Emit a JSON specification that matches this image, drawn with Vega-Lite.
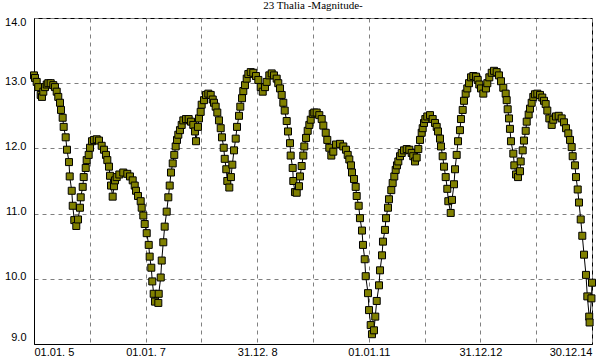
{
  "$schema": "https://vega.github.io/schema/vega-lite/v6.json",
  "width": 558,
  "height": 326,
  "autosize": "none",
  "padding": {"left": 34, "top": 18, "right": 8, "bottom": 16},
  "background": "white",
  "title": {"text": "23 Thalia -Magnitude-", "font": "Liberation Serif", "fontSize": 11, "fontWeight": "normal", "color": "black", "offset": 5, "anchor": "middle"},
  "config": {
    "view": {"stroke": "black", "strokeWidth": 1},
    "axis": {"domainColor": "black", "domainWidth": 1, "gridColor": "#808080", "gridDash": [4, 4], "gridWidth": 1, "gridOpacity": 1, "labelFont": "Liberation Sans", "labelFontSize": 11, "labelColor": "black", "ticks": false, "tickSize": 0, "labelOverlap": false, "title": null}
  },
  "data": {"values": [
    {"year":2005.000,"mag":13.12},{"year":2005.018,"mag":13.08},{"year":2005.048,"mag":13.02},{"year":2005.077,"mag":12.94},{"year":2005.120,"mag":12.82},{"year":2005.143,"mag":12.79},{"year":2005.167,"mag":12.87},{"year":2005.197,"mag":12.94},{"year":2005.228,"mag":12.98},{"year":2005.256,"mag":13.00},{"year":2005.299,"mag":13.00},{"year":2005.346,"mag":12.97},{"year":2005.376,"mag":12.94},{"year":2005.407,"mag":12.87},{"year":2005.435,"mag":12.79},{"year":2005.466,"mag":12.70},{"year":2005.484,"mag":12.59},{"year":2005.514,"mag":12.47},{"year":2005.532,"mag":12.33},{"year":2005.568,"mag":12.17},{"year":2005.591,"mag":11.98},{"year":2005.627,"mag":11.79},{"year":2005.640,"mag":11.57},{"year":2005.676,"mag":11.35},{"year":2005.694,"mag":11.12},{"year":2005.722,"mag":10.90},{"year":2005.758,"mag":10.81},{"year":2005.789,"mag":10.91},{"year":2005.824,"mag":11.09},{"year":2005.837,"mag":11.25},{"year":2005.873,"mag":11.41},{"year":2005.891,"mag":11.56},{"year":2005.927,"mag":11.70},{"year":2005.944,"mag":11.82},{"year":2005.980,"mag":11.90},
    {"year":2006.004,"mag":12.01},{"year":2006.039,"mag":12.11},{"year":2006.075,"mag":12.13},{"year":2006.124,"mag":12.14},{"year":2006.165,"mag":12.12},{"year":2006.213,"mag":12.04},{"year":2006.254,"mag":11.98},{"year":2006.290,"mag":11.90},{"year":2006.314,"mag":11.82},{"year":2006.344,"mag":11.72},{"year":2006.362,"mag":11.58},{"year":2006.380,"mag":11.43},{"year":2006.410,"mag":11.26},{"year":2006.434,"mag":11.42},{"year":2006.452,"mag":11.51},{"year":2006.482,"mag":11.56},{"year":2006.529,"mag":11.60},{"year":2006.600,"mag":11.63},{"year":2006.672,"mag":11.61},{"year":2006.720,"mag":11.57},{"year":2006.769,"mag":11.51},{"year":2006.805,"mag":11.43},{"year":2006.828,"mag":11.35},{"year":2006.864,"mag":11.27},{"year":2006.912,"mag":11.19},{"year":2006.930,"mag":11.09},{"year":2006.959,"mag":10.97},{"year":2006.984,"mag":10.84},
    {"year":2007.020,"mag":10.70},{"year":2007.056,"mag":10.52},{"year":2007.073,"mag":10.34},{"year":2007.102,"mag":10.17},{"year":2007.120,"mag":9.96},{"year":2007.145,"mag":9.77},{"year":2007.168,"mag":9.65},{"year":2007.228,"mag":9.63},{"year":2007.235,"mag":9.77},{"year":2007.271,"mag":10.02},{"year":2007.289,"mag":10.28},{"year":2007.317,"mag":10.56},{"year":2007.342,"mag":10.80},{"year":2007.378,"mag":11.03},{"year":2007.407,"mag":11.25},{"year":2007.432,"mag":11.43},{"year":2007.455,"mag":11.63},{"year":2007.486,"mag":11.77},{"year":2007.514,"mag":11.90},{"year":2007.539,"mag":12.03},{"year":2007.563,"mag":12.13},{"year":2007.586,"mag":12.21},{"year":2007.616,"mag":12.28},{"year":2007.647,"mag":12.36},{"year":2007.676,"mag":12.43},{"year":2007.724,"mag":12.45},{"year":2007.772,"mag":12.45},{"year":2007.814,"mag":12.41},{"year":2007.855,"mag":12.36},{"year":2007.885,"mag":12.26},{"year":2007.903,"mag":12.11},{"year":2007.939,"mag":12.33},{"year":2007.957,"mag":12.46},{"year":2007.987,"mag":12.56},
    {"year":2008.005,"mag":12.67},{"year":2008.047,"mag":12.74},{"year":2008.082,"mag":12.82},{"year":2008.124,"mag":12.84},{"year":2008.167,"mag":12.82},{"year":2008.203,"mag":12.75},{"year":2008.226,"mag":12.70},{"year":2008.256,"mag":12.64},{"year":2008.285,"mag":12.55},{"year":2008.315,"mag":12.43},{"year":2008.346,"mag":12.31},{"year":2008.369,"mag":12.17},{"year":2008.400,"mag":12.01},{"year":2008.418,"mag":11.84},{"year":2008.446,"mag":11.68},{"year":2008.464,"mag":11.50},{"year":2008.500,"mag":11.40},{"year":2008.530,"mag":11.56},{"year":2008.554,"mag":11.75},{"year":2008.584,"mag":11.97},{"year":2008.615,"mag":12.15},{"year":2008.638,"mag":12.33},{"year":2008.674,"mag":12.50},{"year":2008.697,"mag":12.64},{"year":2008.728,"mag":12.77},{"year":2008.751,"mag":12.88},{"year":2008.781,"mag":12.97},{"year":2008.812,"mag":13.07},{"year":2008.841,"mag":13.14},{"year":2008.884,"mag":13.17},{"year":2008.930,"mag":13.16},{"year":2008.978,"mag":13.11},
    {"year":2009.020,"mag":13.05},{"year":2009.063,"mag":12.94},{"year":2009.099,"mag":12.87},{"year":2009.140,"mag":12.94},{"year":2009.170,"mag":13.02},{"year":2009.217,"mag":13.12},{"year":2009.260,"mag":13.15},{"year":2009.301,"mag":13.12},{"year":2009.349,"mag":13.07},{"year":2009.378,"mag":13.00},{"year":2009.409,"mag":12.92},{"year":2009.439,"mag":12.82},{"year":2009.468,"mag":12.70},{"year":2009.493,"mag":12.58},{"year":2009.529,"mag":12.42},{"year":2009.552,"mag":12.26},{"year":2009.588,"mag":12.08},{"year":2009.600,"mag":11.89},{"year":2009.636,"mag":11.70},{"year":2009.647,"mag":11.50},{"year":2009.677,"mag":11.33},{"year":2009.708,"mag":11.32},{"year":2009.749,"mag":11.42},{"year":2009.767,"mag":11.57},{"year":2009.797,"mag":11.73},{"year":2009.826,"mag":11.89},{"year":2009.844,"mag":12.03},{"year":2009.875,"mag":12.16},{"year":2009.905,"mag":12.27},{"year":2009.934,"mag":12.36},{"year":2009.959,"mag":12.44},{"year":2009.995,"mag":12.53},
    {"year":2010.023,"mag":12.55},{"year":2010.066,"mag":12.55},{"year":2010.113,"mag":12.51},{"year":2010.156,"mag":12.45},{"year":2010.185,"mag":12.35},{"year":2010.228,"mag":12.24},{"year":2010.256,"mag":12.13},{"year":2010.292,"mag":12.01},{"year":2010.328,"mag":11.89},{"year":2010.364,"mag":11.95},{"year":2010.412,"mag":12.06},{"year":2010.484,"mag":12.07},{"year":2010.543,"mag":12.03},{"year":2010.591,"mag":11.98},{"year":2010.622,"mag":11.90},{"year":2010.651,"mag":11.83},{"year":2010.681,"mag":11.74},{"year":2010.699,"mag":11.63},{"year":2010.735,"mag":11.53},{"year":2010.765,"mag":11.41},{"year":2010.783,"mag":11.27},{"year":2010.819,"mag":11.12},{"year":2010.842,"mag":10.93},{"year":2010.878,"mag":10.74},{"year":2010.896,"mag":10.52},{"year":2010.927,"mag":10.30},{"year":2010.944,"mag":10.04},{"year":2010.986,"mag":9.78},
    {"year":2011.004,"mag":9.52},{"year":2011.034,"mag":9.29},{"year":2011.057,"mag":9.15},{"year":2011.093,"mag":9.21},{"year":2011.116,"mag":9.42},{"year":2011.142,"mag":9.66},{"year":2011.183,"mag":9.90},{"year":2011.201,"mag":10.13},{"year":2011.237,"mag":10.36},{"year":2011.254,"mag":10.57},{"year":2011.290,"mag":10.75},{"year":2011.308,"mag":10.93},{"year":2011.344,"mag":11.09},{"year":2011.362,"mag":11.22},{"year":2011.403,"mag":11.36},{"year":2011.428,"mag":11.47},{"year":2011.457,"mag":11.57},{"year":2011.482,"mag":11.67},{"year":2011.505,"mag":11.74},{"year":2011.529,"mag":11.80},{"year":2011.559,"mag":11.88},{"year":2011.590,"mag":11.93},{"year":2011.631,"mag":11.97},{"year":2011.679,"mag":11.99},{"year":2011.726,"mag":11.98},{"year":2011.769,"mag":11.93},{"year":2011.797,"mag":11.88},{"year":2011.828,"mag":11.80},{"year":2011.858,"mag":11.86},{"year":2011.887,"mag":11.99},{"year":2011.918,"mag":12.13},{"year":2011.948,"mag":12.24},{"year":2011.966,"mag":12.31},{"year":2011.989,"mag":12.39},
    {"year":2012.013,"mag":12.45},{"year":2012.048,"mag":12.49},{"year":2012.097,"mag":12.51},{"year":2012.145,"mag":12.45},{"year":2012.186,"mag":12.39},{"year":2012.217,"mag":12.33},{"year":2012.240,"mag":12.26},{"year":2012.276,"mag":12.15},{"year":2012.294,"mag":12.03},{"year":2012.324,"mag":11.88},{"year":2012.348,"mag":11.72},{"year":2012.378,"mag":11.56},{"year":2012.407,"mag":11.38},{"year":2012.425,"mag":11.19},{"year":2012.468,"mag":11.01},{"year":2012.491,"mag":11.21},{"year":2012.527,"mag":11.45},{"year":2012.545,"mag":11.68},{"year":2012.575,"mag":11.90},{"year":2012.599,"mag":12.11},{"year":2012.634,"mag":12.28},{"year":2012.652,"mag":12.45},{"year":2012.683,"mag":12.59},{"year":2012.706,"mag":12.73},{"year":2012.736,"mag":12.84},{"year":2012.765,"mag":12.92},{"year":2012.796,"mag":13.00},{"year":2012.832,"mag":13.09},{"year":2012.873,"mag":13.11},{"year":2012.921,"mag":13.10},{"year":2012.952,"mag":13.05},{"year":2012.980,"mag":12.98},
    {"year":2013.011,"mag":12.92},{"year":2013.052,"mag":12.84},{"year":2013.100,"mag":12.92},{"year":2013.124,"mag":13.00},{"year":2013.160,"mag":13.09},{"year":2013.203,"mag":13.16},{"year":2013.244,"mag":13.19},{"year":2013.292,"mag":13.17},{"year":2013.333,"mag":13.12},{"year":2013.369,"mag":13.03},{"year":2013.410,"mag":12.93},{"year":2013.453,"mag":12.84},{"year":2013.471,"mag":12.74},{"year":2013.489,"mag":12.60},{"year":2013.513,"mag":12.46},{"year":2013.530,"mag":12.30},{"year":2013.548,"mag":12.11},{"year":2013.590,"mag":11.92},{"year":2013.608,"mag":11.74},{"year":2013.638,"mag":11.60},{"year":2013.674,"mag":11.56},{"year":2013.710,"mag":11.65},{"year":2013.722,"mag":11.80},{"year":2013.758,"mag":11.97},{"year":2013.781,"mag":12.12},{"year":2013.812,"mag":12.27},{"year":2013.830,"mag":12.41},{"year":2013.865,"mag":12.52},{"year":2013.889,"mag":12.61},{"year":2013.919,"mag":12.70},{"year":2013.948,"mag":12.79},{"year":2013.978,"mag":12.83},
    {"year":2014.020,"mag":12.84},{"year":2014.068,"mag":12.82},{"year":2014.109,"mag":12.78},{"year":2014.140,"mag":12.73},{"year":2014.170,"mag":12.68},{"year":2014.199,"mag":12.58},{"year":2014.235,"mag":12.46},{"year":2014.278,"mag":12.36},{"year":2014.306,"mag":12.44},{"year":2014.355,"mag":12.49},{"year":2014.403,"mag":12.50},{"year":2014.457,"mag":12.46},{"year":2014.498,"mag":12.40},{"year":2014.534,"mag":12.31},{"year":2014.575,"mag":12.23},{"year":2014.606,"mag":12.13},{"year":2014.636,"mag":12.02},{"year":2014.654,"mag":11.88},{"year":2014.695,"mag":11.74},{"year":2014.713,"mag":11.56},{"year":2014.744,"mag":11.37},{"year":2014.767,"mag":11.17},{"year":2014.798,"mag":10.91},{"year":2014.826,"mag":10.66},{"year":2014.857,"mag":10.37},{"year":2014.892,"mag":10.06},{"year":2014.916,"mag":9.73},{"year":2014.950,"mag":9.42},{"year":2014.957,"mag":9.33},{"year":2014.990,"mag":9.70},{"year":2015.000,"mag":9.94}
  ]},
  "encoding": {
    "x": {"field": "year", "type": "quantitative", "scale": {"domain": [2005, 2015], "nice": false, "zero": false},
      "axis": {"values": [2005, 2006, 2007, 2008, 2009, 2010, 2011, 2012, 2013, 2014, 2015], "grid": true, "labelFlush": true, "labelPadding": 2,
        "labelExpr": "datum.value == 2005 ? '01.01. 5' : datum.value == 2007 ? '01.01. 7' : datum.value == 2009 ? '31.12. 8' : datum.value == 2011 ? '01.01.11' : datum.value == 2013 ? '31.12.12' : datum.value == 2015 ? '30.12.14' : ''"}},
    "y": {"field": "mag", "type": "quantitative", "scale": {"domain": [9, 14], "nice": false, "zero": false},
      "axis": {"values": [9, 10, 11, 12, 13, 14], "format": ".1f", "grid": true, "labelFlush": true, "labelPadding": 8, "labelOffset": -2}}
  },
  "layer": [
    {"mark": {"type": "line", "color": "black", "strokeWidth": 1}},
    {"mark": {"type": "point", "shape": "square", "filled": true, "size": 49, "color": "#808000", "stroke": "black", "strokeWidth": 1, "opacity": 1}}
  ]
}
